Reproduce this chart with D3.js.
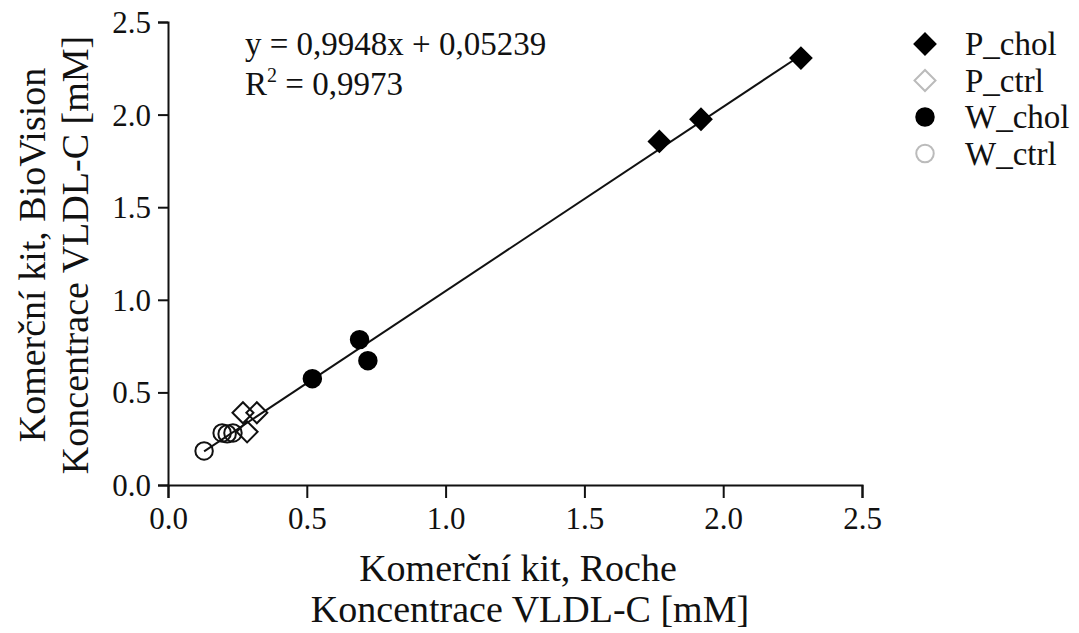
<!DOCTYPE html>
<html>
<head>
<meta charset="utf-8">
<script src="https://cdn.jsdelivr.net/npm/d3@7"></script>
<style>
  body { margin: 0; background: #fff; }
  svg { display: block; }
  text { font-family: "Liberation Serif", "Times New Roman", serif; fill: #111; }
</style>
</head>
<body>
<svg id="chart" width="1079" height="633"></svg>
<script>
// data: [Roche, BioVision]
const pChol = [[1.77, 1.855], [1.92, 1.975], [2.28, 2.305]];
const pCtrl = [[0.27, 0.39], [0.32, 0.39], [0.285, 0.287]];
const wChol = [[0.52, 0.574], [0.69, 0.785], [0.72, 0.671]];
const wCtrl = [[0.13, 0.184], [0.195, 0.281], [0.213, 0.276], [0.234, 0.281]];
const xTicks = [0, 0.5, 1, 1.5, 2, 2.5];
const yTicks = [0, 0.5, 1, 1.5, 2, 2.5];
const slope = 0.9948, intercept = 0.05239;
const eqText = "y = 0,9948x + 0,05239";
const r2Text = "0,9973";
const legendNames = ["P_chol", "P_ctrl", "W_chol", "W_ctrl"];

const svg = d3.select("#chart");
const margin = { left: 168, top: 22, right: 217, bottom: 148 };
const width = 1079 - margin.left - margin.right,
      height = 633 - margin.top - margin.bottom;

const g = svg.append("g").attr("transform", `translate(${margin.left},${margin.top})`);

const x = d3.scaleLinear().domain([0, 2.5]).range([0, width]);
const y = d3.scaleLinear().domain([0, 2.5]).range([height, 0]);

const fmt = d3.format(".1f");

// axes
const xAxis = g.append("g")
    .attr("transform", `translate(0,${height})`)
    .call(d3.axisBottom(x).tickValues(xTicks).tickFormat(fmt).tickSize(13).tickPadding(9));
const yAxis = g.append("g")
    .call(d3.axisLeft(y).tickValues(yTicks).tickFormat(fmt).tickSize(10).tickPadding(7));
[xAxis, yAxis].forEach(a => {
  a.select(".domain").attr("stroke", "#111").attr("stroke-width", 2);
  a.selectAll(".tick line").attr("stroke", "#111").attr("stroke-width", 2);
  a.selectAll(".tick text")
    .attr("fill", "#222")
    .style("font-family", '"Liberation Serif", serif')
    .style("font-size", "31px");
});
yAxis.selectAll(".tick text").attr("dy", "0.34em");

// regression line across the data range
const all = [...pChol, ...pCtrl, ...wChol, ...wCtrl];
const xr = d3.extent(all, d => d[0]);
g.append("path")
  .datum(xr.map(v => [v, slope * v + intercept]))
  .attr("fill", "none")
  .attr("stroke", "#111")
  .attr("stroke-width", 2)
  .attr("d", d3.line().x(d => x(d[0])).y(d => y(d[1])));

const diamond = d3.symbol().type(d3.symbolSquare).size(220);
const circle = d3.symbol().type(d3.symbolCircle).size(240);

function drawPoints(data, sym, rot, fill, stroke) {
  g.append("g").selectAll("path")
    .data(data)
    .join("path")
    .attr("d", sym)
    .attr("transform", d => `translate(${x(d[0])},${y(d[1])}) rotate(${rot})`)
    .attr("fill", fill)
    .attr("stroke", stroke)
    .attr("stroke-width", 2);
}
drawPoints(wCtrl, circle, 0, "none", "#111");
drawPoints(pCtrl, diamond, 45, "none", "#111");
drawPoints(wChol, circle, 0, "#000", "#000");
drawPoints(pChol, diamond, 45, "#000", "#000");

// equation
g.append("text").attr("x", 77).attr("y", 33).style("font-size", "33px").text(eqText);
const r2 = g.append("text").attr("x", 77).attr("y", 73).style("font-size", "33px");
r2.append("tspan").text("R");
r2.append("tspan").attr("dy", -13).style("font-size", "20px").text("2");
r2.append("tspan").attr("dy", 13).text(" = " + r2Text);

// legend
const legendStyles = [
  { sym: diamond, rot: 45, fill: "#000", stroke: "#000" },
  { sym: diamond, rot: 45, fill: "none", stroke: "#bbb" },
  { sym: circle, rot: 0, fill: "#000", stroke: "#000" },
  { sym: circle, rot: 0, fill: "none", stroke: "#bbb" }
];
const legend = svg.append("g").attr("transform", "translate(925,44)");
legendNames.forEach((name, i) => {
  const row = legend.append("g").attr("transform", `translate(0,${i * 36.5})`);
  const s = legendStyles[i];
  row.append("path").attr("d", s.sym).attr("transform", `rotate(${s.rot})`)
    .attr("fill", s.fill).attr("stroke", s.stroke).attr("stroke-width", 2);
  row.append("text").attr("x", 40).attr("dy", "0.34em").style("font-size", "33px").text(name);
});

// axis titles
const xt = svg.append("text").attr("text-anchor", "middle").style("font-size", "38px");
xt.append("tspan").attr("x", 518).attr("y", 581).text("Komerční kit, Roche");
xt.append("tspan").attr("x", 530).attr("y", 622).text("Koncentrace VLDL-C [mM]");

const yt = svg.append("text").attr("text-anchor", "middle")
  .attr("transform", "translate(0,255) rotate(-90)")
  .style("font-size", "38px");
yt.append("tspan").attr("x", 0).attr("y", 45).text("Komerční kit, BioVision");
yt.append("tspan").attr("x", 0).attr("y", 88).text("Koncentrace VLDL-C [mM]");
</script>
</body>
</html>
